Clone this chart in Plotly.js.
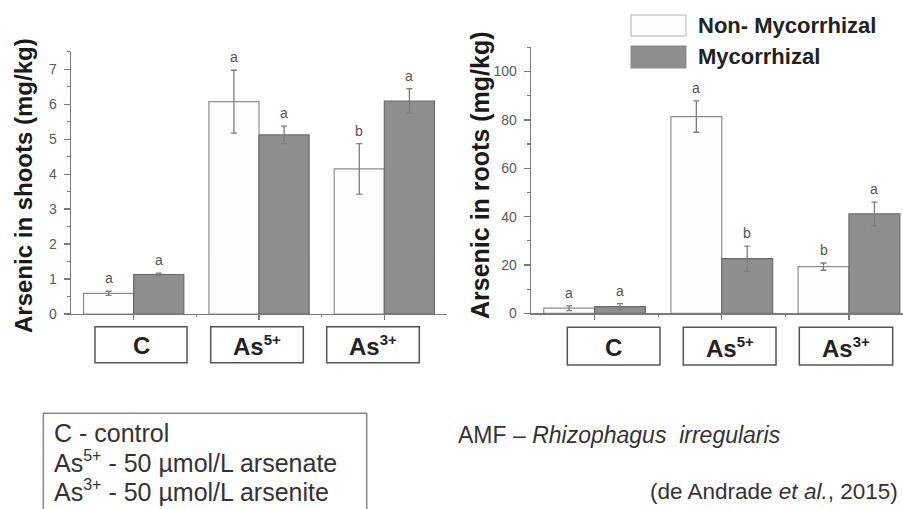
<!DOCTYPE html>
<html>
<head>
<meta charset="utf-8">
<script src="https://cdn.plot.ly/plotly-3.0.1.min.js"></script>
<style>
  html, body { margin: 0; padding: 0; background: #ffffff; }
  #chart { width: 903px; height: 509px; }
</style>
</head>
<body>
<div id="chart"></div>
<script>
// Treatments and series
const categories = ['C', 'As<sup>5+</sup>', 'As<sup>3+</sup>'];
const seriesNames = ['Non- Mycorrhizal', 'Mycorrhizal'];

// Arsenic in shoots (mg/kg): mean and standard error
const shootsNon = [0.59, 6.07, 4.15];
const shootsNonErr = [0.06, 0.90, 0.72];
const shootsMyc = [1.13, 5.12, 6.09];
const shootsMycErr = [0.04, 0.25, 0.35];
const shootsNonLetters = ['a', 'a', 'b'];
const shootsMycLetters = ['a', 'a', 'a'];

// Arsenic in roots (mg/kg): mean and standard error
const rootsNon = [2.1, 81.4, 19.3];
const rootsNonErr = [1.0, 6.5, 1.5];
const rootsMyc = [2.8, 22.6, 41.1];
const rootsMycErr = [1.2, 5.2, 4.9];
const rootsNonLetters = ['a', 'a', 'b'];
const rootsMycLetters = ['a', 'b', 'a'];

// Footnotes
const treatmentNotes = [
  'C - control',
  'As<sup>5+</sup> - 50 \u00b5mol/L arsenate',
  'As<sup>3+</sup> - 50 \u00b5mol/L arsenite'
];
const fungusNote = 'AMF \u2013 <i>Rhizophagus  irregularis</i>';
const sourceNote = '(de Andrade <i>et al.</i>, 2015)';

// ---- layout helpers (pixel -> paper) ----
const W = 903, H = 509;
const px = v => v / W;
const py = v => 1 - v / H;

// shrink superscripts so they sit tight against the symbol
const smallSup = (s, size) =>
  s.replace(/<sup>(.*?)<\/sup>/g, '<sup><span style="font-size:' + size + 'px">$1</span></sup>');

const NON_FILL = '#fdfdfb', NON_LINE = '#8f8f8f';
const MYC_FILL = '#8e8e8e', MYC_LINE = '#6a6a6a';
const AXIS = '#7a7a7a';
const BARGAP = 0.2;
const OFFSET = (1 - BARGAP) / 4;   // centre of each bar within its group
const xpos = categories.map((_, i) => i);

function barTrace(vals, errs, name, fill, line, xa, ya) {
  return {
    type: 'bar', x: xpos, y: vals, name: name,
    xaxis: xa, yaxis: ya,
    marker: { color: fill, line: { color: line, width: 1.2 } },
    error_y: { type: 'data', array: errs, visible: true, color: '#7d7d7d', thickness: 1.3, width: 3 },
    hoverinfo: 'y'
  };
}

const data = [
  barTrace(shootsNon, shootsNonErr, seriesNames[0], NON_FILL, NON_LINE, 'x', 'y'),
  barTrace(shootsMyc, shootsMycErr, seriesNames[1], MYC_FILL, MYC_LINE, 'x', 'y'),
  barTrace(rootsNon, rootsNonErr, seriesNames[0], NON_FILL, NON_LINE, 'x2', 'y2'),
  barTrace(rootsMyc, rootsMycErr, seriesNames[1], MYC_FILL, MYC_LINE, 'x2', 'y2')
];

const annotations = [];
const shapes = [];
const FONT = 'Liberation Sans, Arial, sans-serif';

// significance letters above the error bars
function letters(vals, errs, labels, dx, xr, yr) {
  labels.forEach((t, i) => {
    annotations.push({
      xref: xr, yref: yr, x: i + dx, y: vals[i] + errs[i],
      text: t, showarrow: false, yanchor: 'bottom', yshift: 3,
      font: { family: FONT, size: 14, color: '#555' }
    });
  });
}
letters(shootsNon, shootsNonErr, shootsNonLetters, -OFFSET, 'x', 'y');
letters(shootsMyc, shootsMycErr, shootsMycLetters, OFFSET, 'x', 'y');
letters(rootsNon, rootsNonErr, rootsNonLetters, -OFFSET, 'x2', 'y2');
letters(rootsMyc, rootsMycErr, rootsMycLetters, OFFSET, 'x2', 'y2');

// boxed treatment labels under each panel
const leftBoxes = [[95, 187], [210.7, 303.3], [326.7, 419.3]];
const rightBoxes = [[567.3, 660], [683.3, 776], [799.3, 892.7]];
function boxes(list, y0, y1) {
  list.forEach((b, i) => {
    shapes.push({
      type: 'rect', xref: 'paper', yref: 'paper',
      x0: px(b[0]), x1: px(b[1]), y0: py(y1), y1: py(y0),
      line: { color: '#555', width: 1.5 }, fillcolor: 'rgba(0,0,0,0)'
    });
    annotations.push({
      xref: 'paper', yref: 'paper', x: px((b[0] + b[1]) / 2), y: py((y0 + y1) / 2 + 1),
      text: '<b>' + smallSup(categories[i], 15) + '</b>', showarrow: false,
      xanchor: 'center', yanchor: 'middle',
      font: { family: FONT, size: 24, color: '#222' }
    });
  });
}
boxes(leftBoxes, 326.7, 362.7);
boxes(rightBoxes, 327.3, 365);

// axis titles
annotations.push({
  xref: 'paper', yref: 'paper', x: px(23), y: py(186),
  text: '<b>Arsenic in shoots (mg/kg)</b>', textangle: -90, showarrow: false,
  xanchor: 'center', yanchor: 'middle', font: { family: FONT, size: 24, color: '#1a1a1a' }
});
annotations.push({
  xref: 'paper', yref: 'paper', x: px(480), y: py(175),
  text: '<b>Arsenic in roots (mg/kg)</b>', textangle: -90, showarrow: false,
  xanchor: 'center', yanchor: 'middle', font: { family: FONT, size: 25, color: '#1a1a1a' }
});

// legend drawn as swatches + labels
const legendRows = [
  { y0: 15, y1: 36, fill: NON_FILL, line: '#b0b0b0' },
  { y0: 46, y1: 68, fill: MYC_FILL, line: '#8a8a8a' }
];
legendRows.forEach((r, i) => {
  shapes.push({
    type: 'rect', xref: 'paper', yref: 'paper',
    x0: px(631), x1: px(686), y0: py(r.y1), y1: py(r.y0),
    line: { color: r.line, width: 1 }, fillcolor: r.fill
  });
  annotations.push({
    xref: 'paper', yref: 'paper', x: px(696), y: py((r.y0 + r.y1) / 2),
    text: '<b>' + seriesNames[i] + '</b>', showarrow: false,
    xanchor: 'left', yanchor: 'middle',
    font: { family: FONT, size: 22, color: '#222' }
  });
});

// footnote box
shapes.push({
  type: 'rect', xref: 'paper', yref: 'paper',
  x0: px(43.3), x1: px(366.7), y0: py(520), y1: py(413.3),
  line: { color: '#888', width: 1.5 }, fillcolor: 'rgba(0,0,0,0)'
});
[432.7, 461.7, 491].forEach((yc, i) => {
  annotations.push({
    xref: 'paper', yref: 'paper', x: px(52), y: py(yc),
    text: smallSup(treatmentNotes[i], 16), showarrow: false,
    xanchor: 'left', yanchor: 'middle',
    font: { family: FONT, size: 25, color: '#333' }
  });
});
annotations.push({
  xref: 'paper', yref: 'paper', x: px(456), y: py(435),
  text: fungusNote, showarrow: false, xanchor: 'left', yanchor: 'middle',
  font: { family: FONT, size: 23, color: '#333' }
});
annotations.push({
  xref: 'paper', yref: 'paper', x: px(900), y: py(491.7),
  text: sourceNote, showarrow: false, xanchor: 'right', yanchor: 'middle',
  font: { family: FONT, size: 22.5, color: '#333' }
});

function xAxis(domain, range, anchor) {
  return {
    domain: domain, range: range, anchor: anchor,
    tickmode: 'array', tickvals: xpos, showticklabels: false,
    ticks: 'outside', ticklen: 5, tickwidth: 1.2, tickcolor: AXIS,
    minor: { tickmode: 'array', tickvals: [0.5, 1.5], ticks: 'outside', ticklen: 2, tickcolor: AXIS },
    showline: true, linecolor: AXIS, linewidth: 1.3,
    showgrid: false, zeroline: false, fixedrange: true
  };
}
function yAxis(domain, range, dtick, anchor) {
  return {
    domain: domain, range: range, anchor: anchor,
    tick0: 0, dtick: dtick,
    ticks: 'outside', ticklen: 6, tickwidth: 1.2, tickcolor: AXIS,
    minor: { dtick: dtick / 2, ticks: 'outside', ticklen: 3, tickcolor: AXIS },
    showline: true, linecolor: AXIS, linewidth: 1.3,
    showgrid: false, zeroline: false, ticklabelstandoff: 4,
    tickfont: { family: FONT, size: 14, color: '#5a5a5a' },
    fixedrange: true
  };
}

const layout = {
  width: W, height: H,
  margin: { l: 0, r: 0, t: 0, b: 0 },
  paper_bgcolor: '#ffffff', plot_bgcolor: 'rgba(0,0,0,0)',
  barmode: 'group', bargap: BARGAP, bargroupgap: 0,
  showlegend: false,
  xaxis: xAxis([px(71), px(447)], [-0.5, 2.5], 'y'),
  yaxis: yAxis([py(314), py(51.7)], [0, 7.5], 1, 'x'),
  xaxis2: xAxis([px(531), 1], [-0.5, 2.425], 'y2'),
  yaxis2: yAxis([py(313.3), py(47.4)], [0, 110], 20, 'x2'),
  annotations: annotations,
  shapes: shapes
};

Plotly.newPlot('chart', data, layout, { displayModeBar: false, staticPlot: true });
</script>
</body>
</html>
